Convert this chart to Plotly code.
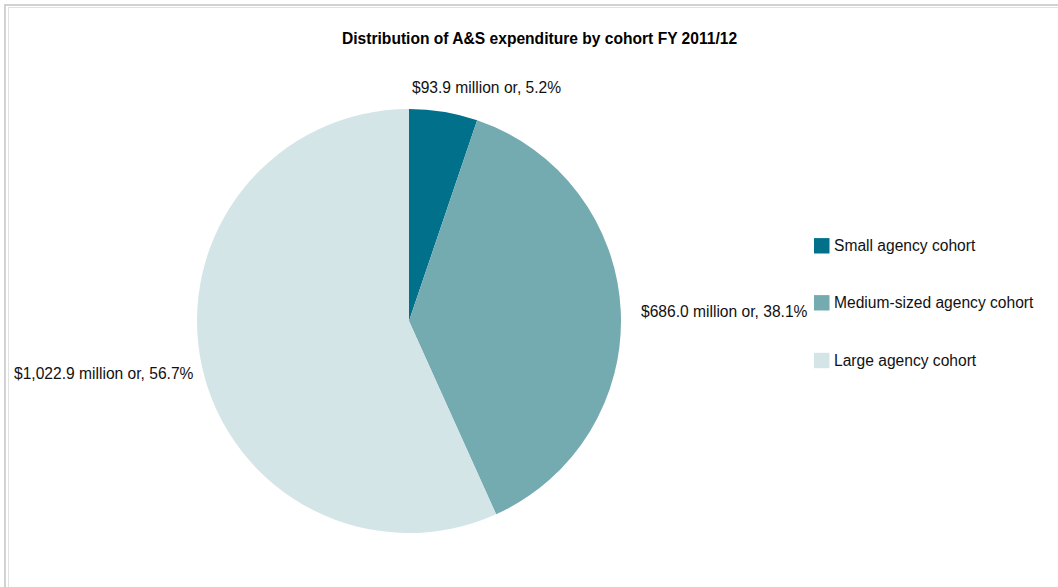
import plotly.graph_objects as go

# A&S expenditure by agency cohort, FY 2011/12 ($ million)
cohorts = ["Small agency cohort", "Medium-sized agency cohort", "Large agency cohort"]
expenditure = [93.9, 686.0, 1022.9]
colors = ["#00708B", "#74ABB0", "#D4E5E8"]

W, H = 1058, 587
total = sum(expenditure)


def px_x(x):
    return x / W


def px_y(y):
    return 1 - y / H


fig = go.Figure()

# pie centred at (409, 321) px with radius 212 px
cx, cy, r = 409, 321, 212
fig.add_trace(go.Pie(
    labels=cohorts,
    values=expenditure,
    marker=dict(colors=colors, line=dict(width=0)),
    sort=False,
    direction="clockwise",
    rotation=0,
    textinfo="none",
    hoverinfo="label+value+percent",
    showlegend=False,
    domain=dict(x=[px_x(cx - r), px_x(cx + r)], y=[px_y(cy + r), px_y(cy - r)]),
))

font = dict(family="Liberation Sans, Arial, sans-serif", size=15.6, color="#111111")

# value labels beside each slice
label_pos = [
    (486.5, 87, "center"),
    (640, 311, "left"),
    (13, 373, "left"),
]
annotations = []
for v, (x, y, anchor) in zip(expenditure, label_pos):
    pct = v / total * 100
    annotations.append(dict(
        x=px_x(x), y=px_y(y), xref="paper", yref="paper",
        xanchor=anchor, yanchor="middle", showarrow=False, borderpad=0,
        text=f"${v:,.1f} million or, {pct:.1f}%", font=font,
    ))

# title
annotations.append(dict(
    x=px_x(539), y=px_y(38), xref="paper", yref="paper",
    xanchor="center", yanchor="middle", showarrow=False, borderpad=0,
    text="<b>Distribution of A&amp;S expenditure by cohort FY 2011/12</b>",
    font=dict(family="Liberation Sans, Arial, sans-serif", size=15.6, color="#000000"),
))

# legend: swatch + cohort name
shapes = []
legend_rows = [245.8, 302.8, 360.5]
for name, col, y in zip(cohorts, colors, legend_rows):
    shapes.append(dict(
        type="rect", xref="paper", yref="paper",
        x0=px_x(814), x1=px_x(829.5), y0=px_y(y - 7.7), y1=px_y(y + 7.7),
        fillcolor=col, line=dict(width=0),
    ))
    annotations.append(dict(
        x=px_x(833), y=px_y(y), xref="paper", yref="paper",
        xanchor="left", yanchor="middle", showarrow=False, borderpad=0,
        text=name, font=font,
    ))

# frame lines along the top and left edges
for x0, x1, y0, y1, col, w in [
    (5, W, 5, 5, "#D2D2D2", 2),
    (8.5, W, 7.5, 7.5, "#E2E2E2", 1),
]:
    shapes.append(dict(type="line", xref="paper", yref="paper",
                       x0=px_x(x0), x1=px_x(x1), y0=px_y(y0), y1=px_y(y1),
                       line=dict(color=col, width=w)))
for x, y0, col, w in [(5, 4, "#D2D2D2", 2), (8.5, 7, "#E2E2E2", 1)]:
    shapes.append(dict(type="line", xref="paper", yref="paper",
                       x0=px_x(x), x1=px_x(x), y0=px_y(y0), y1=px_y(H),
                       line=dict(color=col, width=w)))

fig.update_layout(
    width=W, height=H,
    margin=dict(l=0, r=0, t=0, b=0),
    paper_bgcolor="white",
    plot_bgcolor="white",
    annotations=annotations,
    shapes=shapes,
)

fig.write_html("out.html")
